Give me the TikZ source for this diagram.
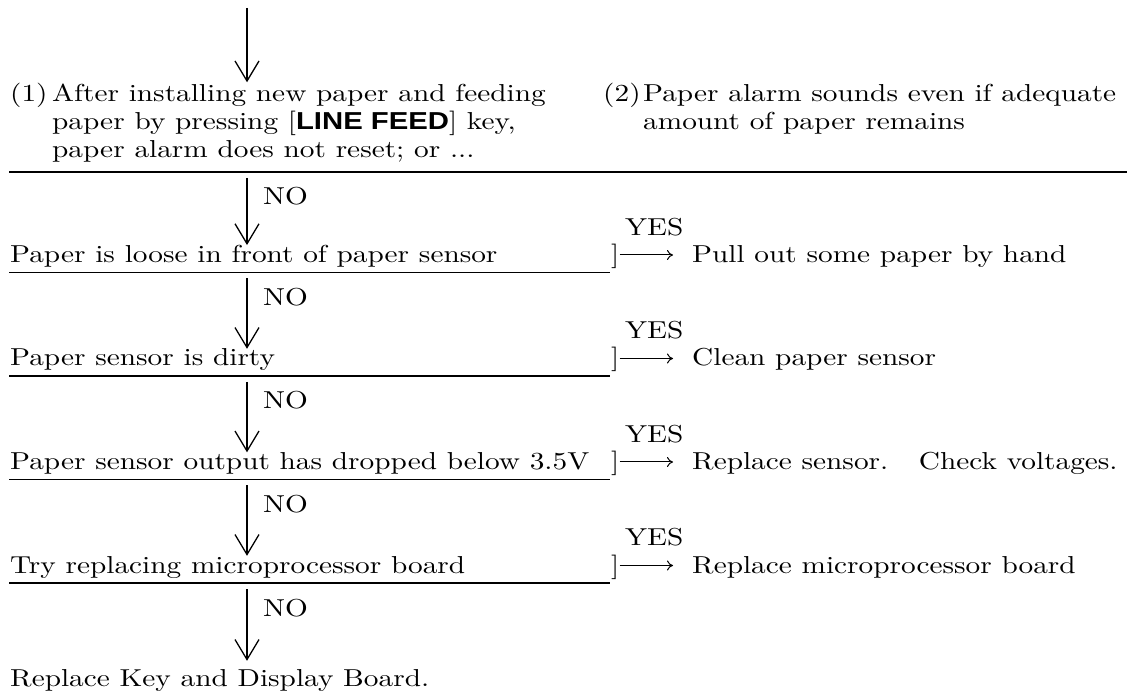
\documentclass[tikz,border=0pt]{standalone}
\usepackage{fontspec}
\usepackage{graphicx}
\usetikzlibrary{arrows.meta}
\newfontfamily\keyfont{Liberation Sans}
% 10pt text enlarged, and set a little wider than the font's natural shape
\newcommand{\wtext}[1]{\scalebox{2.93}[2.45]{#1}}
\begin{document}
\begin{tikzpicture}[x=1pt,y=-1pt,
  lbl/.style={anchor=base west, inner sep=0pt, font=\fontsize{10}{12}\selectfont},
  rule/.style={line width=1.2pt},
  flow/.style={line width=1.3pt, -{Straight Barb[length=20pt,width=24pt,line width=1.3pt]}},
  yesflow/.style={line width=1pt, -{To[length=6pt,width=10pt]}, shorten >=19pt}]
\useasboundingbox (0,0) rectangle (1136,700);

% entry conditions
\node[lbl] (n1) at (10,102) {\wtext{(1)}};
\node[lbl] (c1a) at (52,102) {\wtext{After installing new paper and feeding}};
\node[lbl] (c1b) at (52,130) {\wtext{paper by pressing [{\keyfont\bfseries LINE FEED}] key,}};
\node[lbl] (c1c) at (52,158) {\wtext{paper alarm does not reset; or ...}};
\node[lbl] (n2) at (603,102) {\wtext{(2)}};
\node[lbl] (c2a) at (643,102) {\wtext{Paper alarm sounds even if adequate}};
\node[lbl] (c2b) at (643,130) {\wtext{amount of paper remains}};
\coordinate (top) at (247,8);
\coordinate (ul0s) at (9,172);
\coordinate (ul0e) at (1127,172);
\draw[rule] (ul0s) -- (ul0e);
\draw[flow, shorten >=2pt] (top) -- (top |- c1a.north);

% checks
\node[lbl] (q1) at (10,262.5) {\wtext{Paper is loose in front of paper sensor}};
\node[lbl] (q2) at (10,366) {\wtext{Paper sensor is dirty}};
\node[lbl] (q3) at (10,469.5) {\wtext{Paper sensor output has dropped below 3.5V}};
\node[lbl] (q4) at (10,573) {\wtext{Try replacing microprocessor board}};
\node[lbl] (q5) at (10,686) {\wtext{Replace Key and Display Board.}};

\coordinate (ul1s) at (9,272.5);  \coordinate (ul1e) at (610,272.5);
\coordinate (ul2s) at (9,376);    \coordinate (ul2e) at (610,376);
\coordinate (ul3s) at (9,479.5);  \coordinate (ul3e) at (610,479.5);
\coordinate (ul4s) at (9,583);    \coordinate (ul4e) at (610,583);
\draw[rule] (ul1s) -- (ul1e);
\draw[rule] (ul2s) -- (ul2e);
\draw[rule] (ul3s) -- (ul3e);
\draw[rule] (ul4s) -- (ul4e);

% NO branches
\draw[flow, shorten <=6pt] (top |- ul0s) -- (top |- q1.north);
\draw[flow, shorten <=6pt] (top |- ul1s) -- (top |- q2.north);
\draw[flow, shorten <=6pt] (top |- ul2s) -- (top |- q3.north);
\draw[flow, shorten <=6pt] (top |- ul3s) -- (top |- q4.north);
\draw[flow, shorten <=6pt, shorten >=8pt] (top |- ul4s) -- (top |- q5.north);
\node[lbl] (no0) at (263,205) {\wtext{NO}};
\node[lbl] (no1) at (263,305.5) {\wtext{NO}};
\node[lbl] (no2) at (263,409) {\wtext{NO}};
\node[lbl] (no3) at (263,512.5) {\wtext{NO}};
\node[lbl] (no4) at (263,616) {\wtext{NO}};

% YES branches
\node[lbl] (b1) at (611,262.5) {\wtext{]}};
\node[lbl] (b2) at (611,366) {\wtext{]}};
\node[lbl] (b3) at (611,469.5) {\wtext{]}};
\node[lbl] (b4) at (611,573) {\wtext{]}};
\node[lbl] (a1) at (692,262.5) {\wtext{Pull out some paper by hand}};
\node[lbl] (a2) at (692,366) {\wtext{Clean paper sensor}};
\node[lbl] (a3) at (692,469.5) {\wtext{Replace sensor.\hspace{0.6em} Check voltages.}};
\node[lbl] (a4) at (692,573) {\wtext{Replace microprocessor board}};
\node[lbl] (y1) at (625,235.5) {\wtext{YES}};
\node[lbl] (y2) at (625,339) {\wtext{YES}};
\node[lbl] (y3) at (625,442.5) {\wtext{YES}};
\node[lbl] (y4) at (625,546) {\wtext{YES}};
\draw[yesflow] ([yshift=7.5pt]b1.base east) -- ([yshift=7.5pt]a1.base west);
\draw[yesflow] ([yshift=7.5pt]b2.base east) -- ([yshift=7.5pt]a2.base west);
\draw[yesflow] ([yshift=7.5pt]b3.base east) -- ([yshift=7.5pt]a3.base west);
\draw[yesflow] ([yshift=7.5pt]b4.base east) -- ([yshift=7.5pt]a4.base west);
\end{tikzpicture}
\end{document}
